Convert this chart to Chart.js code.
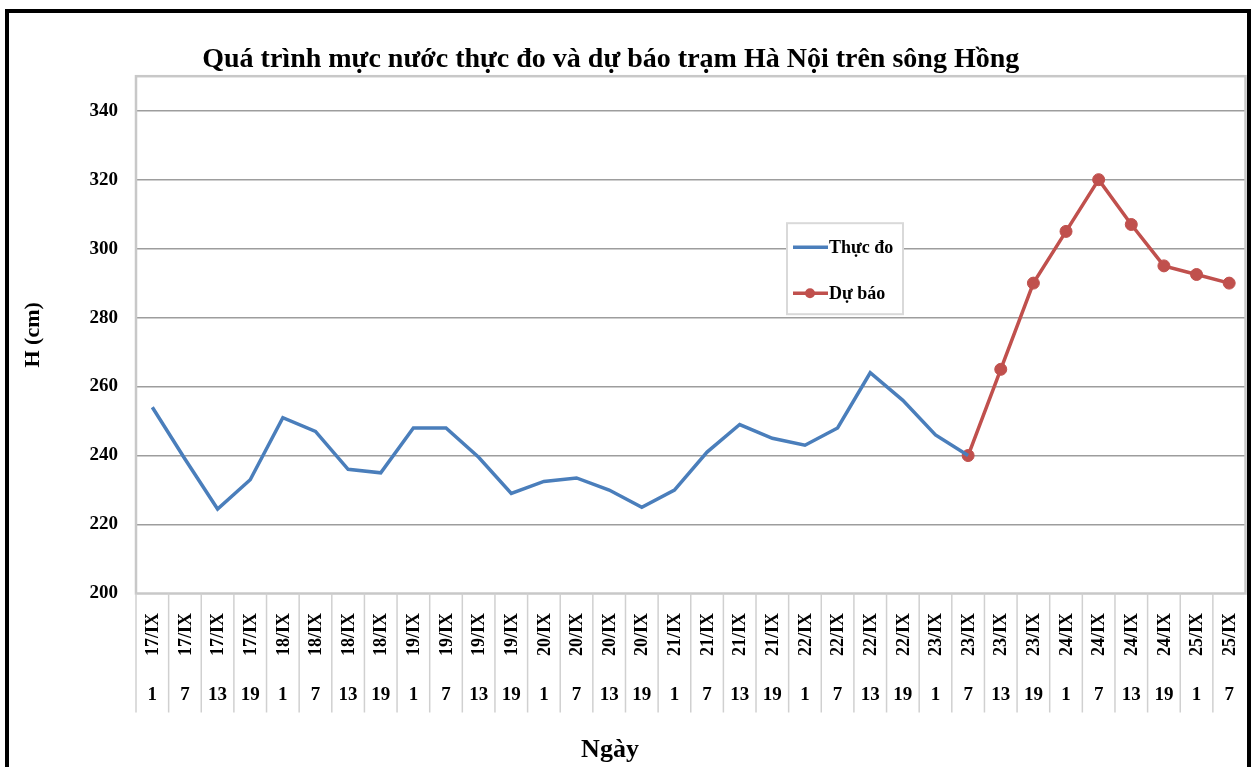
<!DOCTYPE html>
<html>
<head>
<meta charset="utf-8">
<script src="https://cdn.jsdelivr.net/npm/chart.js@4.4.0/dist/chart.umd.min.js"></script>
<style>
  html, body { margin: 0; padding: 0; background: #fff; overflow: hidden; }
  #wrap { position: absolute; left: -24px; top: 0; width: 1280px; height: 767px; }
  #frame { position: absolute; left: 5px; top: 9px; width: 1238px; height: 800px; border: 4px solid #000; pointer-events: none; }
</style>
</head>
<body>
<div id="wrap"><canvas id="chart"></canvas></div>
<div id="frame"></div>
<script>
const serif = '"Liberation Serif", "Times New Roman", serif';

const dayLabels = [
  '17/IX', '17/IX', '17/IX', '17/IX',
  '18/IX', '18/IX', '18/IX', '18/IX',
  '19/IX', '19/IX', '19/IX', '19/IX',
  '20/IX', '20/IX', '20/IX', '20/IX',
  '21/IX', '21/IX', '21/IX', '21/IX',
  '22/IX', '22/IX', '22/IX', '22/IX',
  '23/IX', '23/IX', '23/IX', '23/IX',
  '24/IX', '24/IX', '24/IX', '24/IX',
  '25/IX', '25/IX'
];
const hourLabels = [1, 7, 13, 19, 1, 7, 13, 19, 1, 7, 13, 19, 1, 7, 13, 19,
  1, 7, 13, 19, 1, 7, 13, 19, 1, 7, 13, 19, 1, 7, 13, 19, 1, 7];

// Thực đo: 17/IX 1h -> 23/IX 7h
const observed = [254, 239, 224.5, 233, 251, 247, 236, 235, 248, 248, 239.5, 229,
  232.5, 233.5, 230, 225, 230, 241, 249, 245, 243, 248, 264, 256, 246, 240];
// Dự báo: 23/IX 7h -> 25/IX 7h
const forecast = [240, 265, 290, 305, 320, 307, 295, 292.5, 290];

const yTicks = [200, 220, 240, 260, 280, 300, 320, 340];

const categories = dayLabels.map((d, i) => d + ' ' + hourLabels[i]);
const nObs = observed.length;
const observedData = observed.concat(Array(categories.length - nObs).fill(null));
const forecastData = Array(categories.length - forecast.length).fill(null).concat(forecast);

const BLUE = '#4a7ebb';
const RED = '#c0504d';

const tablePlugin = {
  id: 'tablePlugin',
  beforeDatasetsDraw(chart) {
    const { ctx, chartArea: a } = chart;
    ctx.save();
    ctx.strokeStyle = '#c8c8c8';
    ctx.lineWidth = 2.5;
    ctx.strokeRect(a.left, a.top, a.right - a.left, a.bottom - a.top);
    ctx.restore();
  },
  afterDraw(chart) {
    const { ctx, chartArea: a, scales: { x } } = chart;
    const step = x.getPixelForValue(1) - x.getPixelForValue(0);
    ctx.save();
    // separators under the plot
    ctx.strokeStyle = '#d0d0d0';
    ctx.lineWidth = 1.5;
    for (let i = 0; i < categories.length; i++) {
      const xs = x.getPixelForValue(i) - step / 2;
      ctx.beginPath();
      ctx.moveTo(xs, a.bottom);
      ctx.lineTo(xs, a.bottom + 119);
      ctx.stroke();
    }
    ctx.fillStyle = '#000';
    ctx.textAlign = 'center';
    ctx.textBaseline = 'middle';
    for (let i = 0; i < categories.length; i++) {
      const xc = x.getPixelForValue(i);
      ctx.save();
      ctx.translate(xc + 1, a.bottom + 41);
      ctx.rotate(-Math.PI / 2);
      ctx.font = 'bold 18px ' + serif;
      ctx.fillText(dayLabels[i], 0, 0);
      ctx.restore();
      ctx.font = 'bold 19px ' + serif;
      ctx.fillText(String(hourLabels[i]), xc, a.bottom + 102);
    }
    // x axis title
    ctx.font = 'bold 26px ' + serif;
    ctx.fillText('Ngày', 610 + 24, 750);

    // legend
    const lx = a.left + 651, ly = a.top + 147;
    ctx.fillStyle = '#fff';
    ctx.fillRect(lx, ly, 116, 91);
    ctx.strokeStyle = '#d9d9d9';
    ctx.lineWidth = 2;
    ctx.strokeRect(lx, ly, 116, 91);
    const ds = chart.data.datasets;
    const rows = [ly + 24, ly + 70];
    ds.forEach((d, i) => {
      const yy = rows[i];
      ctx.strokeStyle = d.borderColor;
      ctx.lineWidth = 3.5;
      ctx.beginPath();
      ctx.moveTo(lx + 6, yy);
      ctx.lineTo(lx + 41, yy);
      ctx.stroke();
      if (d.pointRadius > 0) {
        ctx.fillStyle = d.pointBackgroundColor;
        ctx.beginPath();
        ctx.arc(lx + 23, yy, 5, 0, Math.PI * 2);
        ctx.fill();
      }
      ctx.fillStyle = '#000';
      ctx.textAlign = 'left';
      ctx.font = 'bold 18px ' + serif;
      ctx.fillText(d.label, lx + 42, yy + 1);
    });
    ctx.restore();
  }
};

new Chart(document.getElementById('chart'), {
  type: 'line',
  data: {
    labels: categories,
    datasets: [
      {
        label: 'Thực đo',
        data: observedData,
        borderColor: BLUE,
        backgroundColor: BLUE,
        borderWidth: 3.5,
        pointRadius: 0,
        pointHoverRadius: 0,
        tension: 0
      },
      {
        label: 'Dự báo',
        data: forecastData,
        borderColor: RED,
        backgroundColor: RED,
        pointBackgroundColor: RED,
        pointBorderColor: RED,
        borderWidth: 3.5,
        pointRadius: 6,
        pointBorderWidth: 1,
        tension: 0
      }
    ]
  },
  options: {
    responsive: true,
    maintainAspectRatio: false,
    animation: false,
    events: [],
    layout: { padding: { left: 0, right: 10.5, top: 0, bottom: 173.5 } },
    plugins: {
      legend: { display: false },
      tooltip: { enabled: false },
      title: {
        display: true,
        text: 'Quá trình mực nước thực đo và dự báo trạm Hà Nội trên sông Hồng',
        color: '#000',
        font: { family: serif, size: 28, weight: 'bold' },
        padding: { top: 42.6, bottom: 0 }
      }
    },
    scales: {
      x: {
        offset: true,
        grid: { display: false, drawTicks: false },
        border: { display: false },
        ticks: { display: false }
      },
      y: {
        min: 200,
        max: 350,
        afterFit(scale) { scale.width = 160; },
        afterBuildTicks(scale) { scale.ticks = yTicks.map(v => ({ value: v })); },
        grid: {
          drawTicks: false,
          lineWidth: 1.5,
          color: (c) => (c.tick && c.tick.value === 200 ? 'rgba(0,0,0,0)' : '#9d9d9d')
        },
        border: { display: false },
        ticks: {
          padding: 18,
          color: '#000',
          font: { family: serif, size: 19, weight: 'bold' }
        },
        title: {
          display: true,
          text: 'H (cm)',
          color: '#000',
          font: { family: serif, size: 22, weight: 'bold' },
          padding: { top: 44.3, bottom: 0 }
        }
      }
    }
  },
  plugins: [tablePlugin]
});
</script>
</body>
</html>
